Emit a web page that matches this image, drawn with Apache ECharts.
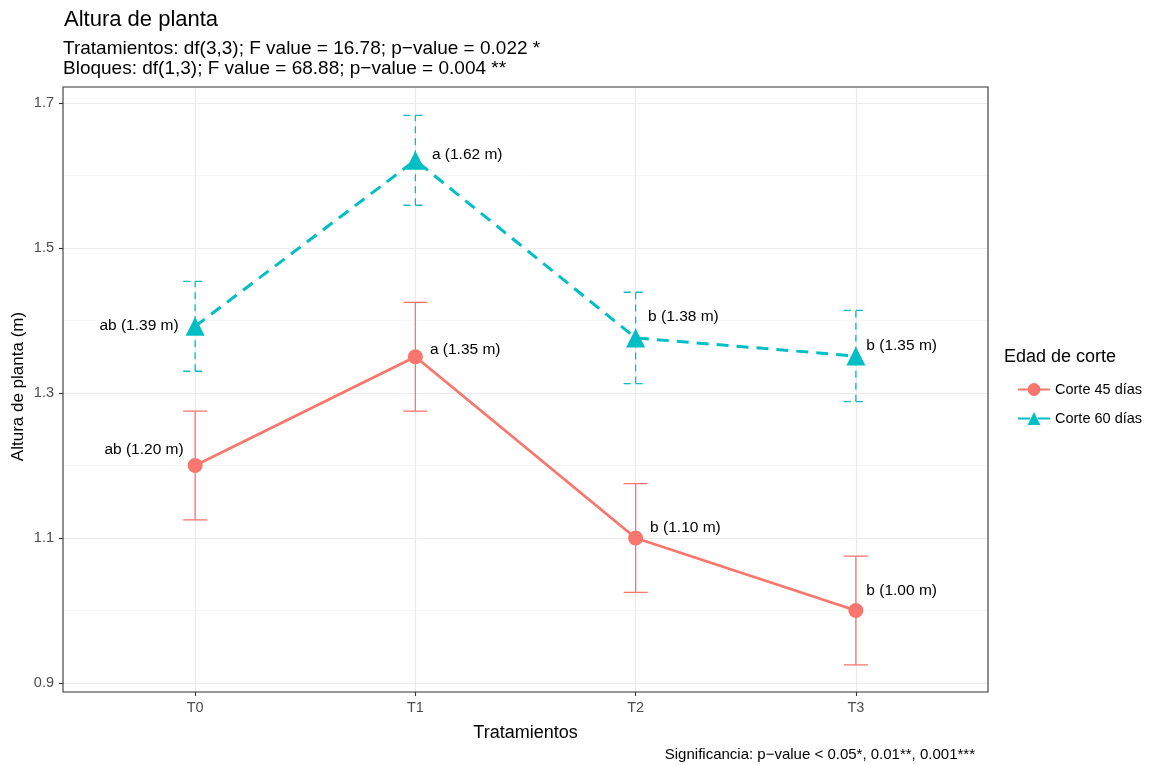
<!DOCTYPE html>
<html><head><meta charset="utf-8">
<script src="https://cdn.jsdelivr.net/npm/echarts@6/dist/echarts.min.js"></script>
<style>html,body{margin:0;padding:0;background:#fff}#c{width:1155px;height:765px}</style>
</head><body><div id="c"></div>
<script>
// ---- data ----
const categories = ['T0', 'T1', 'T2', 'T3'];
const mean45 = [1.20, 1.35, 1.10, 1.00];
const se45 = [0.075, 0.075, 0.075, 0.075];
const mean60 = [1.392, 1.621, 1.376, 1.351];
const se60 = [0.062, 0.062, 0.063, 0.063];
const letters45 = ['ab', 'a', 'b', 'b'];
const letters60 = ['ab', 'a', 'b', 'b'];
const seriesNames = ['Corte 45 días', 'Corte 60 días'];
const yTickMin = 0.9, yTickMax = 1.7, yTickStep = 0.2;

// ---- layout / style ----
const FONT = 'Liberation Sans, Arial, sans-serif';
const C45 = '#F8766D', C60 = '#00BFC4';
const frame = {x: 63, y: 87, w: 925, h: 605};
const xMin = -0.6, xMax = 3.6;
const yPxTop = 103, yPxBottom = 683; // pixel positions of 1.7 and 0.9
const unitPx = frame.w / (xMax - xMin);
const catLeft = frame.x + (0 - xMin) * unitPx;
const catWidth = 3 * unitPx;
// label offsets [position, dx, dy] for ggrepel-like placement
const lab45 = [['left', -4, -16], ['right', 7, -7], ['right', 7, -10], ['right', 3, -20]];
const lab60 = [['left', -7, -1], ['right', 7, -6], ['right', 3, -21], ['right', 1, -10]];

const chart = echarts.init(document.getElementById('c'), null, {renderer: 'canvas'});

function errs(means, ses) { return means.map((m, i) => [i, m - ses[i], m + ses[i]]); }

function errRender(color, dashed) {
  return function (params, api) {
    const x = api.value(0);
    const lo = api.coord([x, api.value(1)]);
    const hi = api.coord([x, api.value(2)]);
    const hw = 12;
    const style = {stroke: color, lineWidth: 1.3, lineDash: dashed ? [7, 5] : null, fill: null};
    return {
      type: 'group',
      children: [
        {type: 'line', shape: {x1: lo[0], y1: lo[1], x2: hi[0], y2: hi[1]}, style: style},
        {type: 'line', shape: {x1: lo[0] - hw, y1: lo[1], x2: lo[0] + hw, y2: lo[1]}, style: style},
        {type: 'line', shape: {x1: hi[0] - hw, y1: hi[1], x2: hi[0] + hw, y2: hi[1]}, style: style}
      ]
    };
  };
}

function labelled(means, letters, offs) {
  return means.map((m, i) => ({
    value: [i, m],
    label: {
      show: true,
      position: offs[i][0],
      distance: 0,
      offset: [offs[i][1], offs[i][2]],
      formatter: letters[i] + ' (' + m.toFixed(2) + ' m)',
      fontFamily: FONT, fontSize: 15.5, color: '#000'
    }
  }));
}

const option = {
  animation: false,
  backgroundColor: '#fff',
  textStyle: {fontFamily: FONT},
  title: [
    {text: 'Altura de planta', left: 59, top: 4, textStyle: {fontFamily: FONT, fontSize: 22, fontWeight: 'normal', color: '#000'}},
    {text: 'Tratamientos: df(3,3); F value = 16.78; p\u2212value = 0.022 *', left: 58, top: 34, textStyle: {fontFamily: FONT, fontSize: 19, fontWeight: 'normal', color: '#000'}},
    {text: 'Bloques: df(1,3); F value = 68.88; p\u2212value = 0.004 **', left: 58, top: 54, textStyle: {fontFamily: FONT, fontSize: 19, fontWeight: 'normal', color: '#000'}},
    {text: 'Edad de corte', left: 999, top: 343, textStyle: {fontFamily: FONT, fontSize: 18, fontWeight: 'normal', color: '#000'}},
    {text: 'Significancia: p\u2212value < 0.05*, 0.01**, 0.001***', right: 1155 - 980, top: 742, textStyle: {fontFamily: FONT, fontSize: 15, fontWeight: 'normal', color: '#000'}}
  ],
  legend: {
    orient: 'vertical', left: 1012, top: 377, itemWidth: 32, itemHeight: 16, itemGap: 14,
    data: seriesNames,
    textStyle: {fontFamily: FONT, fontSize: 14.5, color: '#000'}
  },
  graphic: [
    {type: 'rect', z: 100, silent: true, shape: {x: frame.x, y: frame.y, width: frame.w, height: frame.h},
     style: {fill: null, stroke: '#333333', lineWidth: 1.1}},
    {type: 'text', z: 100, rotation: Math.PI / 2, x: 18, y: frame.y + frame.h / 2 - 3,
     style: {text: 'Altura de planta (m)', fontFamily: FONT, fontSize: 17, fill: '#000', textAlign: 'center', textVerticalAlign: 'middle'}}
  ],
  grid: [
    {left: frame.x, width: frame.w, top: yPxTop, height: yPxBottom - yPxTop, containLabel: false},
    {left: catLeft, width: catWidth, top: frame.y, height: frame.h, containLabel: false}
  ],
  xAxis: [
    {type: 'value', gridIndex: 0, min: xMin, max: xMax, show: false, splitLine: {show: false}, axisLine: {onZero: false}},
    {type: 'category', gridIndex: 1, data: categories, boundaryGap: false,
     axisLine: {show: false, onZero: false},
     axisTick: {show: true, length: 4, lineStyle: {color: '#333', width: 1.1}},
     axisLabel: {fontFamily: FONT, fontSize: 14.5, color: '#4d4d4d', margin: 8},
     splitLine: {show: true, lineStyle: {color: '#ebebeb', width: 1.2}},
     name: 'Tratamientos', nameLocation: 'middle', nameGap: 32,
     nameTextStyle: {fontFamily: FONT, fontSize: 18, color: '#000'}}
  ],
  yAxis: [
    {type: 'value', gridIndex: 0, min: yTickMin, max: yTickMax, interval: yTickStep,
     axisLine: {show: false, onZero: false},
     axisTick: {show: true, length: 4, lineStyle: {color: '#333', width: 1.1}},
     axisLabel: {fontFamily: FONT, fontSize: 14.5, color: '#4d4d4d', margin: 9, formatter: v => v.toFixed(1)},
     splitLine: {show: true, lineStyle: {color: '#ebebeb', width: 1.2}},
     minorTick: {show: false, splitNumber: 2},
     minorSplitLine: {show: true, lineStyle: {color: '#f2f2f2', width: 0.7}}},
    {type: 'value', gridIndex: 1, show: false, splitLine: {show: false}}
  ],
  series: [
    {type: 'custom', name: 'err45', xAxisIndex: 0, yAxisIndex: 0, clip: false, z: 2,
     renderItem: errRender(C45, false), data: errs(mean45, se45), encode: {x: 0, y: [1, 2]}},
    {type: 'custom', name: 'err60', xAxisIndex: 0, yAxisIndex: 0, clip: false, z: 2,
     renderItem: errRender(C60, true), data: errs(mean60, se60), encode: {x: 0, y: [1, 2]}},
    {type: 'line', name: seriesNames[0], xAxisIndex: 0, yAxisIndex: 0, clip: false, z: 3,
     data: labelled(mean45, letters45, lab45),
     symbol: 'circle', symbolSize: 15,
     itemStyle: {color: C45}, lineStyle: {color: C45, width: 2.8}},
    {type: 'line', name: seriesNames[1], xAxisIndex: 0, yAxisIndex: 0, clip: false, z: 3,
     data: labelled(mean60, letters60, lab60),
     symbol: 'triangle', symbolSize: 19,
     itemStyle: {color: C60}, lineStyle: {color: C60, width: 3, type: [12, 8]}}
  ]
};
chart.setOption(option);
</script>
</body></html>
